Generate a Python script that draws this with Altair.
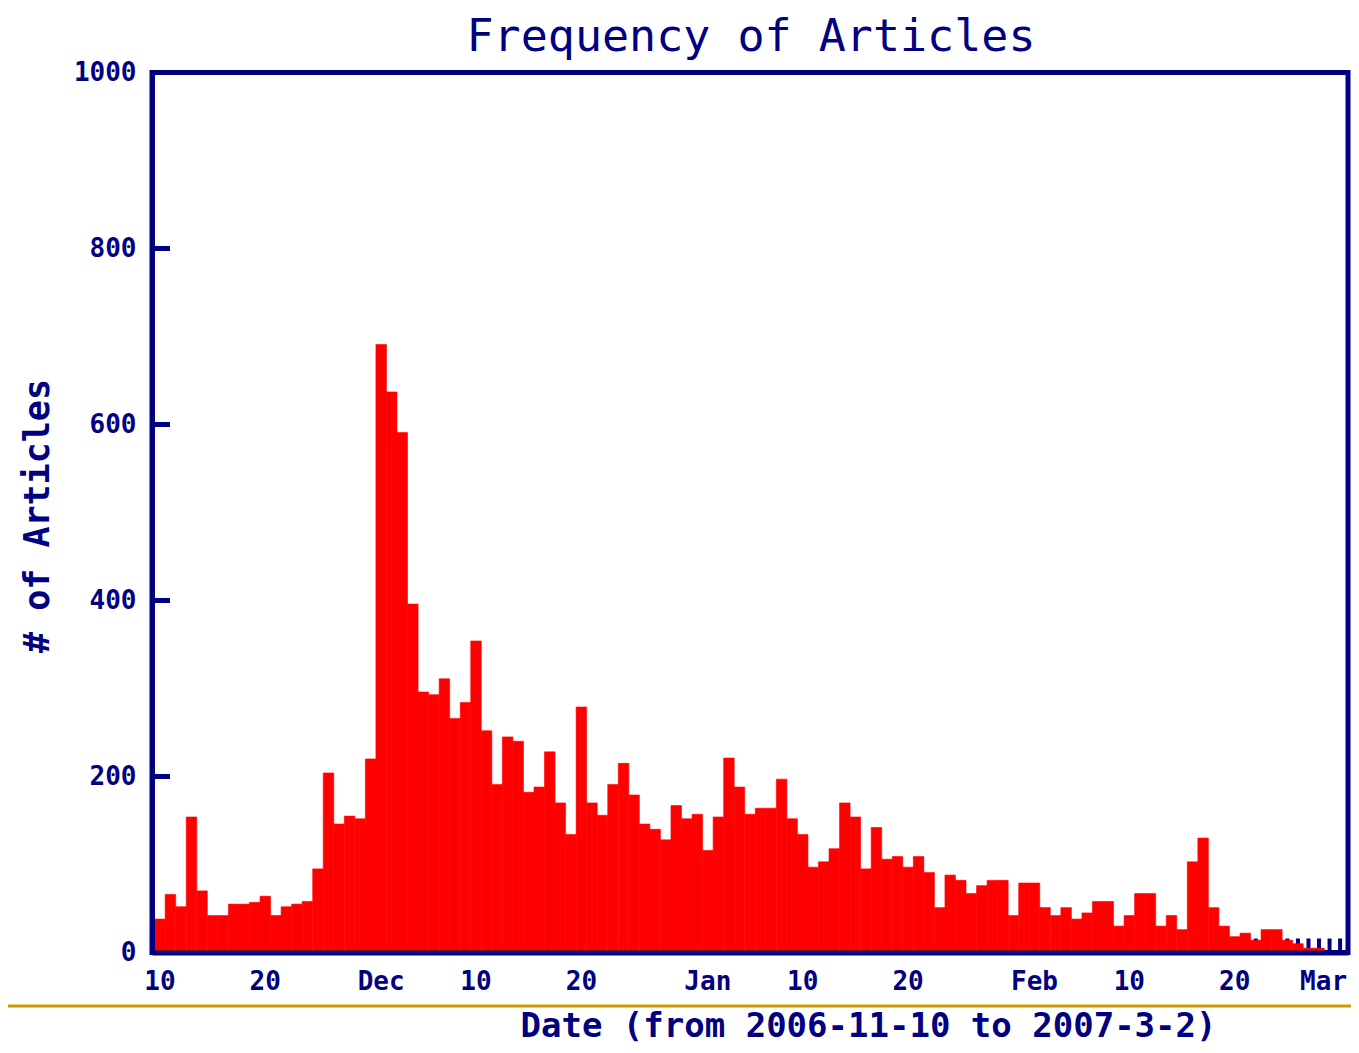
import altair as alt
import pandas as pd

# ---- data -------------------------------------------------------------
start_date = "2006-11-10"
end_date = "2007-03-02"
articles = [38, 66, 52, 154, 70, 42, 42, 55, 55, 57,
            64, 42, 52, 55, 58, 95, 204, 146, 155, 152,
            220, 691, 637, 591, 396, 296, 293, 311, 266, 284,
            354, 252, 191, 245, 240, 182, 188, 228, 170, 134,
            279, 170, 156, 191, 215, 179, 146, 140, 128, 167,
            152, 157, 116, 154, 221, 188, 157, 164, 164, 197,
            152, 134, 97, 103, 118, 170, 154, 95, 142, 106,
            109, 97, 109, 91, 51, 88, 82, 67, 76, 82,
            82, 42, 79, 79, 51, 42, 51, 38, 45, 58,
            58, 30, 42, 67, 67, 30, 42, 26, 103, 130,
            51, 30, 18, 22, 14, 26, 26, 14, 10, 5,
            5, 0, 0]
dates = [d.strftime("%Y-%m-%d") for d in pd.date_range(start_date, end_date)]

tick_dates = ["2006-11-10", "2006-11-20", "2006-12-01", "2006-12-10", "2006-12-20",
              "2007-01-01", "2007-01-10", "2007-01-20", "2007-02-01", "2007-02-10",
              "2007-02-20", "2007-03-01"]
tick_labels = ["10", "20", "Dec", "10", "20", "Jan", "10", "20", "Feb", "10", "20", "Mar"]
y_label_values = [0, 200, 400, 600, 800, 1000]
y_inner_ticks = [200, 400, 600, 800]

chart_title = "Frequency of Articles"
x_title = "Date (from 2006-11-10 to 2007-3-2)"
y_title = "# of Articles"

# ---- style ------------------------------------------------------------
NAVY = "#000080"
RED = "#FF0000"
GOLD = "#CC9900"
FONT = "DejaVu Sans Mono"
LEFT, TOP = 144, 64.5
W, H = 1196, 880

df = pd.DataFrame({"date": dates, "articles": articles})
ticks_df = pd.DataFrame({"v": y_inner_ticks})
one_df = pd.DataFrame({"a": [0]})

label_expr = " : ".join(
    f"datum.value == '{d}' ? '{l}'" for d, l in zip(tick_dates, tick_labels)
) + " : ''"
last_tick = tick_dates[-1]


def x_enc():
    return alt.X(
        "date:O",
        scale=alt.Scale(paddingInner=0, paddingOuter=0.25),
        axis=alt.Axis(
            values=tick_dates, labelExpr=label_expr, labelAngle=0,
            ticks=False, tickSize=0, grid=False,
            domain=True, domainColor=NAVY, domainWidth=5, zindex=1,
            labelFont=FONT, labelFontSize=26, labelFontWeight="bold",
            labelColor=NAVY, labelPadding=16, labelOverlap=False, labelFlush=False,
            labelOffset={"condition": {"test": f"datum.value == '{last_tick}'", "value": -6},
                         "value": 0},
            title=x_title, titleFont=FONT,
            titleFontSize=34, titleFontWeight="bold", titleColor=NAVY,
            titleX=716, titleY=83.5, titleAlign="center", titleBaseline="alphabetic",
        ),
    )


def y_axis():
    return alt.Axis(
        values=y_label_values, format="d", grid=False, ticks=False, tickSize=0,
        domain=True, domainColor=NAVY, domainWidth=5, zindex=1,
        labelFont=FONT, labelFontSize=26, labelFontWeight="bold",
        labelColor=NAVY, labelPadding=16,
        title=y_title, titleFont=FONT, titleFontSize=35,
        titleFontWeight="bold", titleColor=NAVY, titleAngle=270,
        titleX=-104, titleY=443, titleAlign="center", titleBaseline="alphabetic",
    )


yscale = alt.Scale(domain=[0, 1000], nice=False, zero=True)

day_ticks = alt.Chart(df).mark_rule(color=NAVY, strokeWidth=4).encode(
    x=x_enc(), y=alt.value(H - 14), y2=alt.value(H)
)

bars = alt.Chart(df).mark_bar(color=RED, stroke=RED, strokeWidth=0.6).encode(
    x=x_enc(),
    y=alt.Y("articles:Q", scale=yscale, axis=y_axis()),
)

y_ticks = alt.Chart(ticks_df).mark_rule(color=NAVY, strokeWidth=5).encode(
    y=alt.Y("v:Q", scale=yscale, axis=y_axis()),
    x=alt.value(0), x2=alt.value(18),
)

gold_line = alt.Chart(one_df).mark_rule(color=GOLD, strokeWidth=3).encode(
    x=alt.value(-LEFT), x2=alt.value(W + 3), y=alt.value(H + 53.5)
)

title_text = alt.Chart(one_df).mark_text(
    text=chart_title, font=FONT, fontSize=45, fontWeight="normal",
    color=NAVY, align="center", baseline="alphabetic",
).encode(x=alt.value(599), y=alt.value(-21.5))

chart = alt.layer(day_ticks, bars, y_ticks, gold_line, title_text).properties(
    width=W, height=H,
    autosize=alt.AutoSizeParams(type="none"),
    padding={"left": LEFT, "top": TOP, "right": 3, "bottom": 92.5},
    background="white",
).configure_view(stroke=NAVY, strokeWidth=5)

chart.save("out.html", embed_options={"renderer": "svg", "actions": False})
